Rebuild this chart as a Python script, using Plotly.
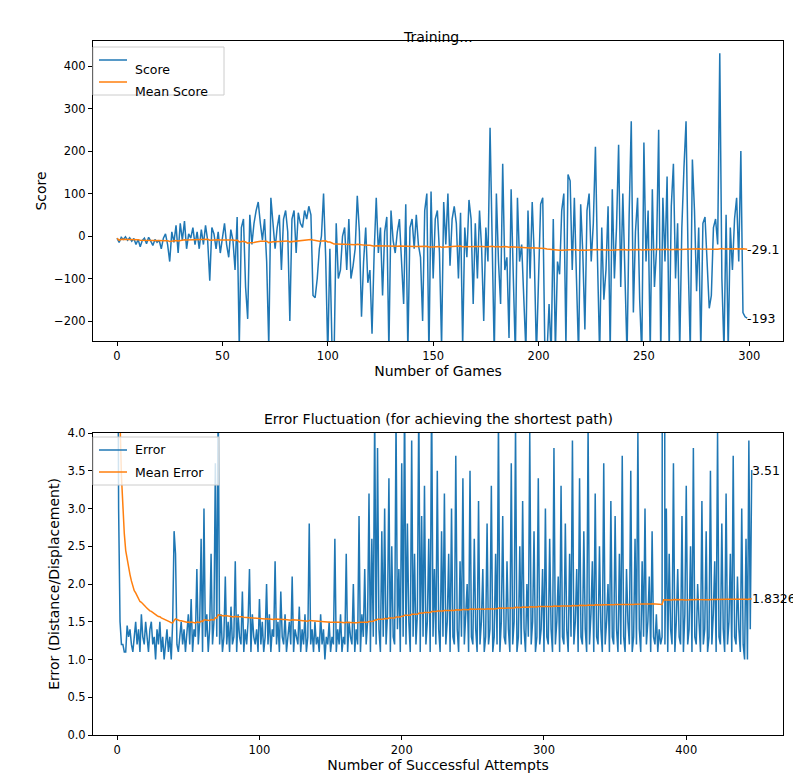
import plotly.graph_objects as go
import numpy as np

scores = [-5,-15,-3,-8,-2,-10,-4,-12,-6,-20,
-8,-25,-10,-5,-18,-3,-12,-22,-8,-15,
-10,-30,-5,5,-20,-60,10,-15,25,-40,
30,-10,35,-30,5,-5,20,-20,10,-30,
15,-20,25,-10,-105,20,5,-30,10,-40,
-5,30,-20,-50,15,-10,-80,45,-260,20,
40,-120,-195,50,-20,30,60,80,30,-10,
40,-60,-260,90,30,-30,20,50,-80,40,
60,10,-200,40,60,-40,55,30,20,60,
40,70,50,-140,-145,-100,-30,0,100,-50,
-280,-30,-260,-280,30,-100,-80,0,20,-80,
40,-100,-70,-30,95,10,-190,-60,20,-110,
-80,-230,-40,90,-40,20,-140,10,45,-270,
60,-10,-40,10,40,-60,-160,75,-270,20,
40,-30,50,-20,-50,-200,60,100,-280,105,
-100,40,60,-40,-260,80,-20,100,-70,40,
70,30,-100,55,-260,20,-50,85,40,-160,
30,-100,60,-30,-200,20,-60,255,-50,-280,
100,-60,-160,170,-80,-50,-240,110,-90,-280,
90,-60,-20,-130,-270,60,-100,80,-50,-280,
-80,75,90,-270,-280,-160,-280,40,-270,-60,
-90,60,100,-260,145,130,-80,90,-100,-280,
75,-40,-220,60,100,-60,30,210,-60,-280,
20,-150,-80,70,-270,110,-100,20,215,-120,
100,-60,-280,50,270,-180,10,90,-150,-280,
220,-60,60,-270,110,-120,-30,250,-280,90,
-60,140,-270,70,170,-100,30,-270,20,160,
270,-60,-270,180,60,-130,20,-270,30,45,
-80,-170,-140,20,40,-20,430,-100,-270,50,
-270,20,-80,40,90,-60,200,-180,-190,-193]

errors = [8,3,1.5,1.2,1.2,1.1,1.1,1.45,1.3,1.4,1.2,1.1,1.3,1.5,1.2,1.4,1.1,1.6,1.3,1.2,
1.5,1.3,1.1,1.4,1.5,1.2,1.3,1.0,1.4,1.2,1.5,1.1,1.3,1.0,1.2,1.4,1.1,1.3,1.0,1.5,
2.7,2.4,1.2,1.1,1.3,1.5,1.2,1.4,1.1,1.3,1.6,1.2,1.8,1.1,1.4,1.3,2.2,1.2,1.5,2.6,
1.1,3.0,1.3,1.6,1.1,1.4,2.4,1.2,1.5,3.6,1.3,4.5,1.2,1.6,1.1,1.3,2.1,1.2,1.5,1.1,
1.7,1.2,1.3,2.3,1.1,1.6,1.3,1.2,1.9,1.1,1.4,1.2,1.5,2.2,1.1,1.6,1.3,1.2,1.4,1.1,
1.8,1.2,1.5,1.1,1.3,2.0,1.2,1.6,1.1,1.4,1.3,2.3,1.2,1.5,1.1,1.9,1.3,1.2,1.6,1.1,
1.3,1.5,1.2,2.1,1.1,1.4,1.3,1.2,1.7,1.1,1.4,1.2,1.6,1.1,1.3,2.8,1.2,1.4,1.1,1.5,
1.2,1.3,1.1,1.6,1.2,1.4,1.0,1.3,1.2,1.5,1.1,1.3,1.2,2.6,1.1,1.4,1.2,1.6,1.1,1.3,
1.2,2.4,1.1,1.5,1.3,1.2,2.0,1.1,1.4,1.2,2.9,1.1,1.6,1.3,2.2,1.2,1.5,3.2,1.1,2.6,
1.3,4.3,1.2,3.8,1.4,1.1,2.7,1.3,3.0,1.2,1.6,3.4,1.1,2.5,1.3,1.2,4.2,1.4,2.2,1.1,
3.6,1.3,4.5,1.2,2.8,1.5,1.1,3.9,1.3,2.4,1.2,1.6,4.4,1.1,2.9,1.3,3.3,1.2,1.5,2.6,
1.1,4.6,1.3,2.2,1.2,3.5,1.4,1.1,2.7,1.3,3.2,1.2,1.5,2.4,1.1,3.0,1.3,1.2,3.7,1.4,
1.1,2.3,1.3,3.4,1.2,1.6,2.0,1.1,3.5,1.3,1.2,2.6,1.4,1.1,3.1,1.2,1.5,2.2,1.1,1.3,
2.8,1.2,1.4,3.3,1.1,1.3,2.4,1.2,4.2,1.1,1.5,2.9,1.3,1.2,2.3,1.4,1.1,3.6,1.2,1.5,
4.1,1.1,1.3,2.5,1.2,3.1,1.4,1.1,2.0,1.3,4.0,1.2,1.5,2.7,1.1,1.3,3.4,1.2,1.4,2.2,
1.1,3.0,1.3,1.2,2.6,1.4,1.1,3.8,1.2,1.5,2.1,1.1,3.3,1.3,1.2,2.8,1.4,1.1,2.4,1.3,
3.9,1.2,1.5,2.2,1.1,3.4,1.3,1.2,2.7,1.4,1.1,4.1,1.2,1.6,2.3,1.1,3.2,1.3,1.2,2.5,
1.4,1.1,3.6,1.2,1.5,2.0,1.1,3.1,1.3,1.2,2.9,1.4,1.1,2.4,1.2,3.7,1.3,1.1,2.2,1.5,
1.2,3.5,1.1,1.3,2.6,1.2,4.0,1.4,1.1,2.3,1.3,3.0,1.2,1.5,2.1,1.1,2.7,1.3,1.2,1.6,
1.1,1.4,1.2,1.3,25,1.2,3.0,1.1,2.4,1.4,1.2,3.6,1.1,1.5,2.2,1.3,1.2,2.9,1.1,1.6,
3.3,1.2,1.4,2.5,1.1,3.8,1.3,1.2,2.0,1.5,1.1,3.1,1.2,1.4,2.7,1.1,1.3,3.5,1.2,1.6,
2.3,1.1,4.0,1.3,1.2,2.8,1.4,1.1,3.2,1.2,1.5,2.4,1.1,3.7,1.3,1.2,2.1,1.4,1.1,3.0,
1.2,1.0,2.6,1.0,3.9,1.4,3.51]

mean_scores = list(np.cumsum(scores) / np.arange(1, len(scores) + 1))
mean_errors = list(np.cumsum(errors) / np.arange(1, len(errors) + 1))
g = list(range(len(scores)))
a = list(range(len(errors)))

BLUE = "#1f77b4"; ORANGE = "#ff7f0e"
fig = go.Figure()
fig.add_trace(go.Scatter(x=g, y=scores, mode="lines", line=dict(color=BLUE, width=1.5), name="Score", xaxis="x", yaxis="y"))
fig.add_trace(go.Scatter(x=g, y=mean_scores, mode="lines", line=dict(color=ORANGE, width=1.5), name="Mean Score", xaxis="x", yaxis="y"))
fig.add_trace(go.Scatter(x=a, y=errors, mode="lines", line=dict(color=BLUE, width=1.5), name="Error", xaxis="x2", yaxis="y2"))
fig.add_trace(go.Scatter(x=a, y=mean_errors, mode="lines", line=dict(color=ORANGE, width=1.5), name="Mean Error", xaxis="x2", yaxis="y2"))

ax = dict(showline=True, mirror=True, linecolor="black", linewidth=1, ticks="outside", ticklen=4, tickcolor="black",
          showgrid=False, zeroline=False, automargin=False, tickfont=dict(size=11.5, color="black"))
dx = [85/801, 775/801]
fig.update_layout(
    width=801, height=778, margin=dict(l=0, r=0, t=0, b=0, autoexpand=False),
    plot_bgcolor="white", paper_bgcolor="white",
    font=dict(family="DejaVu Sans", color="black", size=11.5),
    showlegend=False,
    xaxis=dict(ax, domain=dx, range=[-11.4, 316], dtick=50, anchor="y",
               title=dict(text="Number of Games", standoff=4)),
    yaxis=dict(ax, domain=[(778-333)/778, (778-33)/778], range=[-247, 459], dtick=100, anchor="x",
               title=dict(text="Score", standoff=4)),
    xaxis2=dict(ax, domain=dx, range=[-17, 468], dtick=100, anchor="y2",
                title=dict(text="Number of Successful Attempts", standoff=4)),
    yaxis2=dict(ax, domain=[(778-727)/778, (778-425)/778], range=[0, 4], dtick=0.5, tickformat=".1f", anchor="x2",
                title=dict(text="Error (Distance/Displacement)", standoff=4)),
)
anns = [
    dict(x=0.5*(dx[0]+dx[1]), y=(778-19)/778, xref="paper", yref="paper", text="Training...", showarrow=False, font=dict(size=14)),
    dict(x=0.5*(dx[0]+dx[1]), y=(778-411)/778, xref="paper", yref="paper", text="Error Fluctuation (for achieving the shortest path)", showarrow=False, font=dict(size=14)),
    dict(x=g[-1], y=mean_scores[-1], xref="x", yref="y", text="-29.1", showarrow=False, xanchor="left", xshift=-2, font=dict(size=12.5)),
    dict(x=g[-1], y=scores[-1], xref="x", yref="y", text="-193", showarrow=False, xanchor="left", xshift=-2, font=dict(size=12.5)),
    dict(x=a[-1], y=errors[-1], xref="x2", yref="y2", text="3.51", showarrow=False, xanchor="left", xshift=-2, font=dict(size=12.5)),
    dict(x=a[-1], y=mean_errors[-1], xref="x2", yref="y2", text="1.8326", showarrow=False, xanchor="left", xshift=-2, font=dict(size=12.5)),
]
def legend(x0, ytop, items, w):
    shapes = []
    h = 22
    shapes.append(dict(type="rect", xref="paper", yref="paper", x0=x0/801, x1=(x0+w)/801, y0=(778-ytop-len(items)*h-4)/778, y1=(778-ytop)/778, line=dict(color="#cccccc", width=1), fillcolor="rgba(255,255,255,0.8)", layer="above"))
    for i, (name, col) in enumerate(items):
        yc = (778-ytop-13-i*h)/778
        shapes.append(dict(type="line", xref="paper", yref="paper", x0=(x0+6)/801, x1=(x0+34)/801, y0=yc, y1=yc, line=dict(color=col, width=1.5), layer="above"))
        anns.append(dict(x=(x0+40)/801, y=yc, xref="paper", yref="paper", text=name, showarrow=False, xanchor="left", font=dict(size=12.5)))
    return shapes
shapes = legend(85, 39, [("Score", BLUE), ("Mean Score", ORANGE)], 131) + legend(85, 429, [("Error", BLUE), ("Mean Error", ORANGE)], 126)
fig.update_layout(annotations=anns, shapes=shapes)
fig.write_html("out.html")
